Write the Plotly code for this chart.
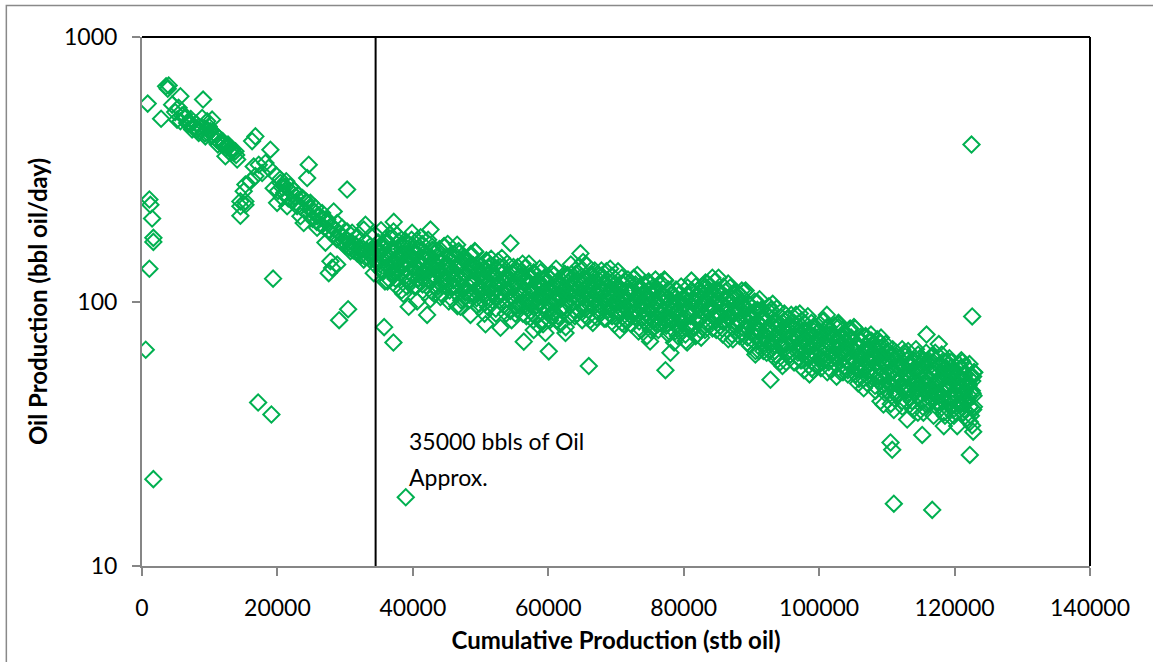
import plotly.graph_objects as go

# Axis ticks
x_ticks = [0, 20000, 40000, 60000, 80000, 100000, 120000, 140000]
x_tick_labels = ["0", "20000", "40000", "60000", "80000", "100000", "120000", "140000"]
y_ticks = [10, 100, 1000]
y_tick_labels = ["10", "100", "1000"]

# Marker for cumulative production at the change point (stb)
cutoff_cum_stb = 34500
cutoff_label = ["35000 bbls of Oil", "Approx."]

# Early production: cumulative oil (stb) and daily rate (bbl oil/day)
early_cum_stb = [
    840, 1090, 1240, 1490, 1680, 1680, 1090, 550, 1680, 3560,
    3940, 3800, 5670, 4450, 2820, 9020, 5180, 6160, 6900, 7640,
    8140, 8880, 9620, 9850, 10100, 10840, 11330, 12070, 12810, 13310,
    13060, 13800, 12320, 14050, 10350, 6660, 5670, 7400, 8370, 9360,
    16750, 16260, 18960, 16500, 17240, 18230, 18710, 17740, 16750, 16010,
    15270, 15020, 14530, 15270, 14530, 14530, 15270, 24620, 24390, 30290,
    19450, 20440, 21180, 21920, 22660, 19950, 20690, 21430, 22910, 23400,
    23880, 23880, 24870, 25610, 25860, 26600, 27340, 28310, 28820, 29560,
    30290, 31030, 31770, 32750, 33000, 33730, 32260, 31030, 29790, 28820,
    27830, 27090, 33730, 32750, 30780, 27830, 27580, 28080, 25860, 28820,
    19360, 29110, 30440, 17150, 19110,
    19800, 20100, 20400, 20700, 21000, 21300, 21600, 21900, 22200, 22500,
    22800, 23100, 23400, 23700, 24000, 24300, 24600, 24900, 25200, 25500,
    25800, 26100, 26400, 26700, 27000, 27300, 27600, 27900, 28200, 28500,
    28800, 29100, 29400, 29700, 30000, 30300, 30600, 30900, 31200, 31500,
    31800, 32100, 32400, 32700, 33000, 33300, 33600, 33900,
    4900, 5400, 5900, 6400, 6900, 7200, 7700, 8000, 8500, 8800,
    9300, 9700, 10200, 10600, 11000, 11500, 11900, 12400, 12700, 13200,
    13500, 13900, 12900, 11200,
]
early_rate_bopd = [
    560, 243, 232, 206, 174, 168, 133, 65.7, 21.3, 651,
    656, 637, 597, 555, 491, 580, 487, 509, 480, 459,
    447, 494, 480, 459, 440, 428, 415, 392, 384, 377,
    365, 370, 354, 344, 487, 473, 480, 447, 434, 421,
    421, 404, 375, 324, 329, 334, 320, 306, 298, 285,
    277, 261, 239, 239, 229, 211, 232, 329, 293, 265,
    268, 281, 272, 261, 250, 236, 247, 229, 229, 210,
    198, 243, 236, 226, 210, 216, 204, 219, 198, 190,
    184, 182, 176, 187, 169, 162, 157, 162, 169, 174,
    182, 167, 149, 144, 155, 142, 128, 134, 190, 138,
    122, 85, 93.5, 41.5, 37.4,
    300, 262, 290, 270, 258, 285, 245, 272, 240, 262,
    236, 252, 228, 246, 222, 238, 214, 225, 205, 218,
    200, 212, 195, 206, 190, 198, 185, 193, 178, 188,
    172, 181, 168, 176, 163, 171, 160, 168, 156, 164,
    152, 160, 150, 158, 147, 155, 145, 152,
    520, 540, 505, 495, 470, 490, 452, 470, 440, 455,
    432, 445, 420, 433, 410, 398, 404, 380, 392, 372,
    366, 358, 368, 392,
]

# Main decline trend after the change point (first pass of daily readings)
mid_cum_stb = [
    34040, 34230, 34410, 34620, 34810,
    35110, 35300, 35480, 35690, 35880,
    36000, 36200, 36370, 36560, 36770,
    37070, 37260, 37450, 37650, 37850,
    38150, 38330, 38520, 38720, 38930,
    39040, 39230, 39410, 39620, 39810,
    40110, 40300, 40480, 40690, 40880,
    41000, 41200, 41370, 41560, 41770,
    42070, 42260, 42450, 42650, 42850,
    43150, 43330, 43520, 43720, 43930,
    44040, 44230, 44410, 44620, 44810,
    45110, 45300, 45480, 45690, 45880,
    46000, 46200, 46370, 46560, 46770,
    47070, 47260, 47450, 47650, 47850,
    48150, 48330, 48520, 48720, 48930,
    49040, 49230, 49410, 49620, 49810,
    50110, 50300, 50480, 50690, 50880,
    51000, 51200, 51370, 51560, 51770,
    52070, 52260, 52450, 52650, 52850,
    53150, 53330, 53520, 53720, 53930,
    54040, 54230, 54410, 54620, 54810,
    55110, 55300, 55480, 55690, 55880,
    56000, 56200, 56370, 56560, 56770,
    57070, 57260, 57450, 57650, 57850,
    58150, 58330, 58520, 58720, 58930,
    59040, 59230, 59410, 59620, 59810,
    60110, 60300, 60480, 60690, 60880,
    61000, 61200, 61370, 61560, 61770,
    62070, 62260, 62450, 62650, 62850,
    63150, 63330, 63520, 63720, 63930,
    64040, 64230, 64410, 64620, 64810,
    65110, 65300, 65480, 65690, 65880,
    66000, 66200, 66370, 66560, 66770,
    67070, 67260, 67450, 67650, 67850,
    68150, 68330, 68520, 68720, 68930,
    69040, 69230, 69410, 69620, 69810,
    70110, 70300, 70480, 70690, 70880,
    71000, 71200, 71370, 71560, 71770,
    72070, 72260, 72450, 72650, 72850,
    73150, 73330, 73520, 73720, 73930,
    74040, 74230, 74410, 74620, 74810,
    75110, 75300, 75480, 75690, 75880,
    76000, 76200, 76370, 76560, 76770,
    77070, 77260, 77450, 77650, 77850,
    78150, 78330, 78520, 78720, 78930,
    79040, 79230, 79410, 79620, 79810,
    80110, 80300, 80480, 80690, 80880,
    81000, 81200, 81370, 81560, 81770,
    82070, 82260, 82450, 82650, 82850,
    83150, 83330, 83520, 83720, 83930,
    84040, 84230, 84410, 84620, 84810,
    85110, 85300, 85480, 85690, 85880,
    86000, 86200, 86370, 86560, 86770,
    87070, 87260, 87450, 87650, 87850,
    88150, 88330, 88520, 88720, 88930,
    89040, 89230, 89410, 89620, 89810,
    90110, 90300, 90480, 90690, 90880,
    91000, 91200, 91370, 91560, 91770,
    92070, 92260, 92450, 92650, 92850,
    93150, 93330, 93520, 93720, 93930,
    94040, 94230, 94410, 94620, 94810,
    95110, 95300, 95480, 95690, 95880,
    96000, 96200, 96370, 96560, 96770,
    97070, 97260, 97450, 97650, 97850,
    98150, 98330, 98520, 98720, 98930,
    99040, 99230, 99410, 99620, 99810,
    100110, 100300, 100480, 100690, 100880,
    101000, 101200, 101370, 101560, 101770,
    102070, 102260, 102450, 102650, 102850,
    103150, 103330, 103520, 103720, 103930,
    104040, 104230, 104410, 104620, 104810,
    105110, 105300, 105480, 105690, 105880,
    106000, 106200, 106370, 106560, 106770,
    107070, 107260, 107450, 107650, 107850,
    108150, 108330, 108520, 108720, 108930,
    109040, 109230, 109410, 109620, 109810,
    110110, 110300, 110480, 110690, 110880,
    111000, 111200, 111370, 111560, 111770,
    112070, 112260, 112450, 112650, 112850,
    113150, 113330, 113520, 113720, 113930,
    114040, 114230, 114410, 114620, 114810,
    115110, 115300, 115480, 115690, 115880,
    116000, 116200, 116370, 116560, 116770,
    117070, 117260, 117450, 117650, 117850,
    118150, 118330, 118520, 118720, 118930,
    119040, 119230, 119410, 119620, 119810,
    120110, 120300, 120480, 120690, 120880,
    121000, 121200, 121370, 121560, 121770,
    122070, 122260, 122450, 122650, 122850,
]
mid_rate_bopd = [
    155, 128, 179, 141, 166,
    144, 186, 132, 158, 119,
    167, 136, 149, 121, 173,
    128, 157, 140, 178, 132,
    151, 110, 164, 142, 125,
    132, 166, 120, 148, 171,
    153, 135, 114, 158, 141,
    143, 118, 165, 130, 153,
    132, 171, 121, 145, 109,
    152, 124, 136, 110, 158,
    117, 143, 127, 162, 121,
    137, 100, 149, 129, 114,
    120, 150, 108, 134, 155,
    138, 122, 102, 142, 127,
    129, 106, 149, 117, 137,
    119, 154, 109, 130, 98,
    137, 111, 122, 99, 142,
    104, 128, 114, 145, 108,
    123, 90, 133, 116, 101,
    108, 135, 97, 121, 139,
    124, 109, 92, 128, 114,
    116, 96, 135, 106, 124,
    108, 139, 99, 118, 88,
    124, 101, 111, 90, 129,
    96, 118, 105, 133, 99,
    112, 82, 122, 106, 93,
    98, 122, 88, 109, 126,
    114, 101, 85, 118, 105,
    110, 91, 127, 100, 118,
    107, 138, 98, 117, 88,
    127, 103, 113, 92, 131,
    98, 121, 107, 137, 102,
    116, 85, 127, 110, 96,
    101, 127, 91, 113, 131,
    117, 103, 86, 120, 107,
    108, 89, 125, 99, 116,
    101, 130, 92, 110, 83,
    116, 95, 104, 84, 121,
    89, 109, 97, 123, 92,
    105, 77, 114, 99, 87,
    92, 115, 83, 103, 119,
    107, 94, 79, 110, 98,
    100, 82, 116, 91, 107,
    93, 120, 85, 102, 77,
    106, 86, 95, 77, 110,
    82, 101, 89, 114, 85,
    98, 71, 106, 92, 81,
    88, 110, 80, 99, 114,
    106, 93, 78, 109, 97,
    101, 83, 117, 92, 108,
    95, 123, 87, 104, 78,
    110, 89, 98, 79, 114,
    84, 104, 92, 117, 87,
    99, 72, 107, 93, 82,
    85, 106, 76, 95, 109,
    95, 84, 70, 98, 87,
    87, 71, 100, 79, 93,
    79, 102, 72, 86, 65,
    90, 73, 80, 65, 93,
    68, 83, 74, 94, 70,
    80, 59, 87, 75, 66,
    69, 86, 62, 77, 89,
    80, 70, 59, 82, 73,
    73, 60, 85, 67, 78,
    68, 88, 62, 75, 56,
    78, 64, 70, 57, 81,
    61, 75, 67, 85, 63,
    74, 54, 80, 70, 61,
    64, 81, 58, 72, 83,
    73, 65, 54, 75, 67,
    67, 55, 78, 61, 72,
    61, 79, 56, 67, 51,
    71, 57, 63, 51, 73,
    54, 66, 59, 75, 56,
    62, 46, 68, 59, 52,
    53, 67, 48, 60, 69,
    60, 53, 45, 62, 55,
    55, 45, 64, 50, 59,
    51, 66, 47, 56, 42,
    58, 47, 52, 42, 60,
    45, 56, 49, 63, 47,
    55, 40, 60, 52, 46,
    48, 60, 43, 54, 62,
    55, 48, 41, 57, 50,
    51, 42, 59, 47, 55,
    47, 61, 43, 51, 39,
    54, 44, 48, 39, 56,
    41, 50, 45, 57, 42,
    48, 35, 52, 45, 40,
]

# Main decline trend (second pass of daily readings, interleaved with the first)
mid2_cum_stb = [
    34095, 34285, 34505, 34700, 34905,
    35020, 35160, 35350, 35540, 35735,
    36120, 36310, 36465, 36680, 36870,
    37095, 37285, 37505, 37700, 37905,
    38020, 38160, 38350, 38540, 38735,
    39120, 39310, 39465, 39680, 39870,
    40095, 40285, 40505, 40700, 40905,
    41020, 41160, 41350, 41540, 41735,
    42120, 42310, 42465, 42680, 42870,
    43095, 43285, 43505, 43700, 43905,
    44020, 44160, 44350, 44540, 44735,
    45120, 45310, 45465, 45680, 45870,
    46095, 46285, 46505, 46700, 46905,
    47020, 47160, 47350, 47540, 47735,
    48120, 48310, 48465, 48680, 48870,
    49095, 49285, 49505, 49700, 49905,
    50020, 50160, 50350, 50540, 50735,
    51120, 51310, 51465, 51680, 51870,
    52095, 52285, 52505, 52700, 52905,
    53020, 53160, 53350, 53540, 53735,
    54120, 54310, 54465, 54680, 54870,
    55095, 55285, 55505, 55700, 55905,
    56020, 56160, 56350, 56540, 56735,
    57120, 57310, 57465, 57680, 57870,
    58095, 58285, 58505, 58700, 58905,
    59020, 59160, 59350, 59540, 59735,
    60120, 60310, 60465, 60680, 60870,
    61095, 61285, 61505, 61700, 61905,
    62020, 62160, 62350, 62540, 62735,
    63120, 63310, 63465, 63680, 63870,
    64095, 64285, 64505, 64700, 64905,
    65020, 65160, 65350, 65540, 65735,
    66120, 66310, 66465, 66680, 66870,
    67095, 67285, 67505, 67700, 67905,
    68020, 68160, 68350, 68540, 68735,
    69120, 69310, 69465, 69680, 69870,
    70095, 70285, 70505, 70700, 70905,
    71020, 71160, 71350, 71540, 71735,
    72120, 72310, 72465, 72680, 72870,
    73095, 73285, 73505, 73700, 73905,
    74020, 74160, 74350, 74540, 74735,
    75120, 75310, 75465, 75680, 75870,
    76095, 76285, 76505, 76700, 76905,
    77020, 77160, 77350, 77540, 77735,
    78120, 78310, 78465, 78680, 78870,
    79095, 79285, 79505, 79700, 79905,
    80020, 80160, 80350, 80540, 80735,
    81120, 81310, 81465, 81680, 81870,
    82095, 82285, 82505, 82700, 82905,
    83020, 83160, 83350, 83540, 83735,
    84120, 84310, 84465, 84680, 84870,
    85095, 85285, 85505, 85700, 85905,
    86020, 86160, 86350, 86540, 86735,
    87120, 87310, 87465, 87680, 87870,
    88095, 88285, 88505, 88700, 88905,
    89020, 89160, 89350, 89540, 89735,
    90120, 90310, 90465, 90680, 90870,
    91095, 91285, 91505, 91700, 91905,
    92020, 92160, 92350, 92540, 92735,
    93120, 93310, 93465, 93680, 93870,
    94095, 94285, 94505, 94700, 94905,
    95020, 95160, 95350, 95540, 95735,
    96120, 96310, 96465, 96680, 96870,
    97095, 97285, 97505, 97700, 97905,
    98020, 98160, 98350, 98540, 98735,
    99120, 99310, 99465, 99680, 99870,
    100095, 100285, 100505, 100700, 100905,
    101020, 101160, 101350, 101540, 101735,
    102120, 102310, 102465, 102680, 102870,
    103095, 103285, 103505, 103700, 103905,
    104020, 104160, 104350, 104540, 104735,
    105120, 105310, 105465, 105680, 105870,
    106095, 106285, 106505, 106700, 106905,
    107020, 107160, 107350, 107540, 107735,
    108120, 108310, 108465, 108680, 108870,
    109095, 109285, 109505, 109700, 109905,
    110020, 110160, 110350, 110540, 110735,
    111120, 111310, 111465, 111680, 111870,
    112095, 112285, 112505, 112700, 112905,
    113020, 113160, 113350, 113540, 113735,
    114120, 114310, 114465, 114680, 114870,
    115095, 115285, 115505, 115700, 115905,
    116020, 116160, 116350, 116540, 116735,
    117120, 117310, 117465, 117680, 117870,
    118095, 118285, 118505, 118700, 118905,
    119020, 119160, 119350, 119540, 119735,
    120120, 120310, 120465, 120680, 120870,
    121095, 121285, 121505, 121700, 121905,
    122020, 122160, 122350, 122540, 122735,
]
mid2_rate_bopd = [
    147, 161, 137, 154, 167,
    155, 138, 162, 129, 149,
    140, 167, 146, 156, 133,
    157, 141, 129, 147, 168,
    132, 148, 158, 138, 151,
    140, 153, 130, 145, 158,
    146, 131, 153, 122, 141,
    132, 157, 137, 147, 125,
    148, 132, 121, 138, 157,
    124, 139, 148, 129, 141,
    130, 142, 121, 135, 147,
    136, 121, 143, 114, 131,
    122, 146, 127, 137, 116,
    137, 123, 113, 128, 146,
    115, 129, 137, 120, 131,
    120, 131, 112, 125, 136,
    126, 112, 132, 105, 121,
    113, 134, 118, 126, 107,
    126, 113, 104, 118, 135,
    106, 119, 128, 111, 122,
    112, 122, 104, 116, 127,
    117, 105, 123, 98, 113,
    105, 125, 110, 118, 100,
    119, 107, 98, 111, 127,
    100, 112, 120, 105, 114,
    105, 114, 97, 109, 119,
    109, 98, 114, 91, 105,
    100, 119, 104, 111, 94,
    116, 104, 95, 108, 123,
    101, 113, 121, 105, 115,
    110, 120, 102, 114, 124,
    116, 104, 122, 97, 112,
    105, 125, 110, 118, 100,
    118, 106, 97, 110, 125,
    98, 110, 118, 103, 112,
    103, 112, 95, 107, 117,
    108, 97, 113, 90, 104,
    98, 116, 102, 109, 93,
    109, 98, 90, 102, 116,
    92, 103, 110, 96, 105,
    97, 106, 90, 101, 110,
    102, 91, 107, 85, 98,
    92, 110, 96, 103, 87,
    104, 93, 85, 97, 111,
    86, 97, 104, 90, 99,
    91, 100, 85, 95, 103,
    97, 86, 102, 81, 93,
    90, 108, 94, 101, 85,
    105, 94, 86, 98, 112,
    90, 101, 108, 94, 103,
    96, 105, 89, 100, 109,
    101, 90, 106, 84, 97,
    91, 109, 95, 102, 86,
    102, 91, 84, 95, 108,
    84, 94, 100, 87, 96,
    85, 93, 79, 89, 97,
    88, 78, 92, 73, 84,
    77, 92, 80, 86, 73,
    86, 77, 70, 80, 91,
    71, 80, 85, 74, 81,
    75, 82, 69, 78, 85,
    77, 69, 81, 65, 74,
    70, 83, 73, 78, 66,
    77, 69, 63, 72, 82,
    65, 72, 77, 67, 74,
    68, 74, 63, 71, 77,
    72, 64, 76, 60, 69,
    67, 80, 70, 75, 63,
    75, 67, 62, 70, 80,
    62, 69, 74, 65, 71,
    64, 70, 59, 67, 73,
    66, 59, 69, 55, 63,
    59, 71, 62, 66, 56,
    66, 60, 55, 62, 71,
    55, 61, 65, 57, 62,
    56, 61, 52, 59, 64,
    58, 52, 60, 48, 55,
    51, 60, 53, 57, 48,
    57, 51, 47, 53, 60,
    47, 53, 57, 49, 54,
    50, 55, 47, 53, 57,
    55, 49, 57, 46, 52,
    49, 58, 51, 55, 46,
    55, 49, 45, 51, 58,
    46, 51, 55, 48, 52,
    48, 52, 44, 49, 54,
    49, 44, 52, 41, 48,
    44, 53, 46, 49, 42,
    49, 44, 40, 46, 52,
]

# Main decline trend (third pass: the noisier days at the band edges)
mid3_cum_stb = [
    36250, 36580, 36860, 37140, 37430, 37760, 38250, 38580, 38860, 39140, 39430, 39760,
    40250, 40580, 40860, 41140, 41430, 41760, 42250, 42580, 42860, 43140, 43430, 43760,
    44250, 44580, 44860, 45140, 45430, 45760, 46250, 46580, 46860, 47140, 47430, 47760,
    48250, 48580, 48860, 49140, 49430, 49760, 50250, 50580, 50860, 51140, 51430, 51760,
    52250, 52580, 52860, 53140, 53430, 53760, 54250, 54580, 54860, 55140, 55430, 55760,
    56250, 56580, 56860, 57140, 57430, 57760, 58250, 58580, 58860, 59140, 59430, 59760,
    60250, 60580, 60860, 61140, 61430, 61760, 62250, 62580, 62860, 63140, 63430, 63760,
    64250, 64580, 64860, 65140, 65430, 65760, 66250, 66580, 66860, 67140, 67430, 67760,
    68250, 68580, 68860, 69140, 69430, 69760, 70250, 70580, 70860, 71140, 71430, 71760,
    72250, 72580, 72860, 73140, 73430, 73760, 74250, 74580, 74860, 75140, 75430, 75760,
    76250, 76580, 76860, 77140, 77430, 77760, 78250, 78580, 78860, 79140, 79430, 79760,
    80250, 80580, 80860, 81140, 81430, 81760, 82250, 82580, 82860, 83140, 83430, 83760,
    84250, 84580, 84860, 85140, 85430, 85760, 86250, 86580, 86860, 87140, 87430, 87760,
    88250, 88580, 88860, 89140, 89430, 89760, 90250, 90580, 90860, 91140, 91430, 91760,
    92250, 92580, 92860, 93140, 93430, 93760, 94250, 94580, 94860, 95140, 95430, 95760,
    96250, 96580, 96860, 97140, 97430, 97760, 98250, 98580, 98860, 99140, 99430, 99760,
    100250, 100580, 100860, 101140, 101430, 101760, 102250, 102580, 102860, 103140, 103430, 103760,
    104250, 104580, 104860, 105140, 105430, 105760, 106250, 106580, 106860, 107140, 107430, 107760,
    108250, 108580, 108860, 109140, 109430, 109760, 110250, 110580, 110860, 111140, 111430, 111760,
    112250, 112580, 112860, 113140, 113430, 113760, 114250, 114580, 114860, 115140, 115430, 115760,
    116250, 116580, 116860, 117140, 117430, 117760, 118250, 118580, 118860, 119140, 119430, 119760,
    120250, 120580, 120860, 121140, 121430, 121760, 122250, 122580, 122860,
]
mid3_rate_bopd = [
    119, 179, 128, 184, 122, 113, 128, 107, 170, 114, 164, 121,
    114, 170, 122, 175, 116, 108, 121, 102, 161, 107, 155, 114,
    107, 161, 115, 165, 110, 102, 114, 96, 152, 101, 146, 108,
    101, 151, 108, 155, 103, 95, 107, 90, 143, 95, 137, 101,
    94, 142, 101, 146, 97, 90, 101, 85, 135, 90, 130, 96,
    90, 134, 96, 139, 92, 85, 97, 81, 129, 85, 123, 91,
    85, 127, 91, 133, 88, 82, 95, 80, 126, 88, 127, 93,
    90, 136, 97, 141, 94, 87, 99, 83, 131, 87, 125, 92,
    86, 130, 93, 133, 88, 82, 92, 78, 123, 82, 119, 87,
    82, 122, 88, 126, 84, 78, 88, 74, 117, 78, 113, 83,
    78, 118, 84, 121, 81, 75, 84, 70, 111, 74, 107, 79,
    75, 113, 81, 120, 80, 74, 86, 73, 115, 78, 113, 83,
    79, 119, 85, 123, 81, 75, 85, 72, 113, 75, 108, 80,
    74, 110, 79, 110, 73, 68, 75, 63, 99, 65, 93, 69,
    64, 96, 69, 98, 65, 60, 68, 57, 90, 59, 86, 63,
    59, 89, 64, 90, 60, 55, 62, 53, 83, 55, 80, 59,
    56, 84, 60, 89, 59, 55, 62, 52, 82, 54, 78, 57,
    53, 79, 57, 80, 53, 49, 55, 47, 74, 49, 71, 52,
    48, 72, 52, 73, 48, 45, 49, 41, 66, 43, 62, 45,
    42, 64, 46, 65, 43, 40, 46, 38, 61, 42, 60, 45,
    42, 62, 45, 64, 42, 39, 44, 37, 59, 39, 56, 41,
    38, 58, 41, 59, 39, 36, 40, 34, 54,
]

# Late-life days, where the rate scatter widens
late_cum_stb = [
    108400, 108900, 109300, 109700, 110200, 110600, 111100, 111500, 111900, 112300,
    112700, 113100, 113500, 113900, 114300, 114700, 115100, 115400, 115800, 116100,
    116400, 116900, 117300, 117700, 118100, 118400, 118800, 119200, 119500, 119900,
    120300, 120600, 121000, 121300, 121600, 121900, 122200, 122400, 122600, 122800,
    122900, 122750,
]
late_rate_bopd = [
    66, 50, 63, 47, 65, 49, 61, 44, 58, 40,
    62, 45, 57, 39, 66, 44, 58, 38, 64, 41,
    57, 37, 60, 44, 63, 38, 56, 42, 59, 37,
    52, 41, 60, 38, 53, 43, 58, 37, 50, 44,
    54, 39,
]

# Off-trend days (shut-ins, tests, flush production)
stray_cum_stb = [
    35760, 37130, 38950, 39390, 40630, 42110, 44070, 47030, 48510, 50730,
    52940, 56380, 57850, 60070, 59580, 37180, 42600, 46540, 54410, 33000,
    39890, 64750, 75830, 83220, 62540, 65000, 75030, 80510, 81990, 65980,
    77300, 78040, 90600, 93550, 92810, 109060, 111030, 113000, 109060, 122600,
    115860, 117670, 110540, 110790, 115220, 122250, 122750, 111030, 116700, 118410,
    120390, 121870, 109500, 122500,
]
stray_rate_bopd = [
    80, 70, 18.2, 95.5, 100, 89, 104, 95.5, 89, 82,
    79.6, 70.5, 78, 64.8, 76, 200, 187, 164, 166, 195,
    182, 152, 121, 118, 76, 85, 70.6, 70, 75, 57,
    55, 64, 65, 62.9, 50.6, 42, 38.9, 35.8, 69.5, 87.8,
    75, 69, 29.3, 27.5, 31.3, 26.3, 32.2, 17.2, 16.3, 33.8,
    33.8, 36.2, 40.8, 392,
]

cum_stb = (early_cum_stb + mid_cum_stb + mid2_cum_stb + mid3_cum_stb
           + late_cum_stb + stray_cum_stb)
rate_bopd = (early_rate_bopd + mid_rate_bopd + mid2_rate_bopd + mid3_rate_bopd
             + late_rate_bopd + stray_rate_bopd)

GREEN = "#00B050"
AXIS_GREY = "#868686"
FONT = "Lato"

fig = go.Figure()
fig.add_trace(go.Scatter(
    x=cum_stb,
    y=rate_bopd,
    mode="markers",
    marker=dict(symbol="diamond-open", size=12.5, color=GREEN,
                line=dict(width=2, color=GREEN)),
    hoverinfo="skip",
    showlegend=False,
))

# Plot-area frame: grey axes on left/bottom, black edges top/right
fig.add_shape(type="line", xref="paper", yref="paper", x0=0, x1=1, y0=1, y1=1,
              line=dict(color="black", width=2))
fig.add_shape(type="line", xref="paper", yref="paper", x0=1, x1=1, y0=0, y1=1,
              line=dict(color="black", width=2))

# Change-point marker
fig.add_shape(type="line", xref="x", yref="paper", x0=cutoff_cum_stb, x1=cutoff_cum_stb,
              y0=0, y1=1, line=dict(color="black", width=2))

# Outer chart border
fig.add_shape(type="rect", xref="paper", yref="paper",
              x0=-0.1431, x1=1.08, y0=-0.2, y1=1.0596,
              line=dict(color="#898989", width=1.5), fillcolor="rgba(0,0,0,0)", layer="below")

fig.add_annotation(x=39200, y=0.2365, xref="x", yref="paper", text=cutoff_label[0],
                   showarrow=False, xanchor="left", yanchor="middle",
                   font=dict(family=FONT, size=23, color="black"))
fig.add_annotation(x=39200, y=0.1684, xref="x", yref="paper", text=cutoff_label[1],
                   showarrow=False, xanchor="left", yanchor="middle",
                   font=dict(family=FONT, size=23, color="black"))

fig.update_layout(
    width=1153, height=662,
    margin=dict(l=142, r=63, t=37, b=96),
    paper_bgcolor="white", plot_bgcolor="white",
    font=dict(family=FONT, size=23, color="black"),
    showlegend=False,
)
fig.update_xaxes(
    range=[0, 140000], tickvals=x_ticks, ticktext=x_tick_labels,
    ticks="outside", ticklen=8, tickwidth=2, tickcolor=AXIS_GREY,
    showline=True, linecolor=AXIS_GREY, linewidth=2,
    showgrid=False, zeroline=False, automargin=False,
    ticklabelstandoff=12,
    tickfont=dict(family=FONT, size=23, color="black"),
    title=dict(text="<b>Cumulative Production (stb oil)</b>", standoff=13,
               font=dict(family=FONT, size=24, color="black")),
)
fig.update_yaxes(
    type="log", range=[1, 3], tickvals=y_ticks, ticktext=y_tick_labels,
    ticks="outside", ticklen=8, tickwidth=2, tickcolor=AXIS_GREY,
    showline=True, linecolor=AXIS_GREY, linewidth=2,
    showgrid=False, zeroline=False, automargin=False,
    ticklabelstandoff=10,
    tickfont=dict(family=FONT, size=23, color="black"),
    title=dict(text="<b>Oil Production (bbl oil/day)</b>", standoff=10,
               font=dict(family=FONT, size=24, color="black")),
)

fig.write_html("out.html")
